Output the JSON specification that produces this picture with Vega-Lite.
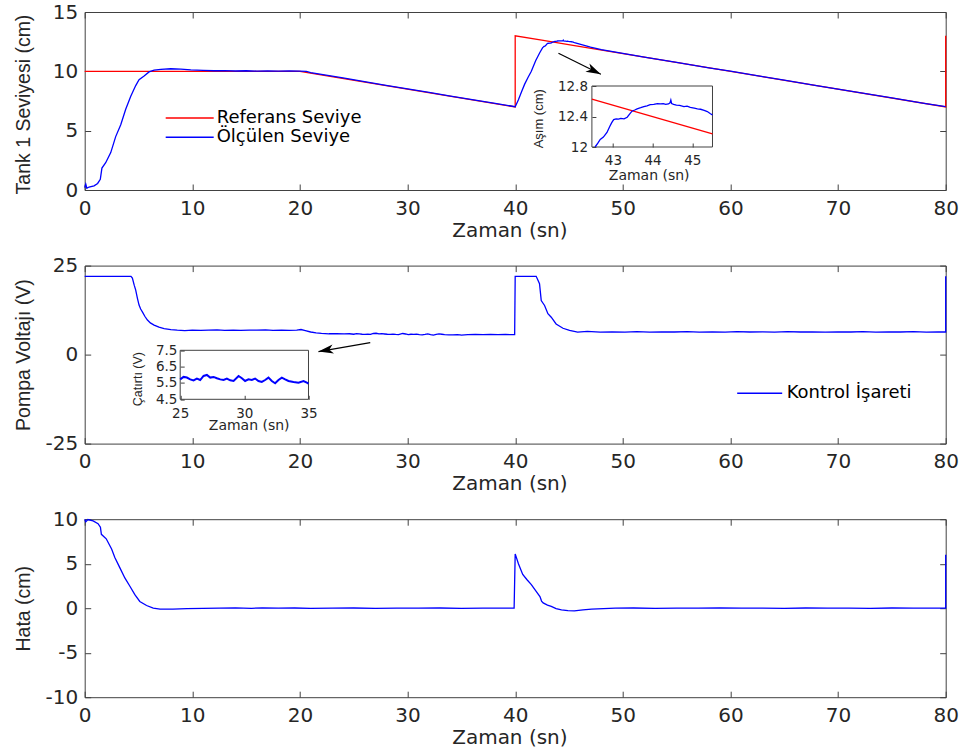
{
  "$schema": "https://vega.github.io/schema/vega-lite/v6.json",
  "background": "#ffffff",
  "padding": {"left": 12.7, "top": 2, "right": 5, "bottom": 5},
  "bounds": "flush",
  "spacing": 75.6,
  "datasets": {
    "lvl": [
      {"t": 0, "v": 10, "s": "Referans Seviye"},
      {"t": 20, "v": 10, "s": "Referans Seviye"},
      {"t": 40, "v": 7, "s": "Referans Seviye"},
      {"t": 40, "v": 13, "s": "Referans Seviye"},
      {"t": 42.47, "v": 12.6295, "s": "Referans Seviye"},
      {"t": 45.51, "v": 12.1735, "s": "Referans Seviye"},
      {"t": 80, "v": 7, "s": "Referans Seviye"},
      {"t": 80, "v": 13, "s": "Referans Seviye"},
      {"t": 0, "v": 0.2, "s": "Ölçülen Seviye"},
      {"t": 0.1, "v": 0.5, "s": "Ölçülen Seviye"},
      {"t": 0.2, "v": 0.15, "s": "Ölçülen Seviye"},
      {"t": 0.4, "v": 0.25, "s": "Ölçülen Seviye"},
      {"t": 0.87, "v": 0.35, "s": "Ölçülen Seviye"},
      {"t": 1.2, "v": 0.55, "s": "Ölçülen Seviye"},
      {"t": 1.45, "v": 0.9, "s": "Ölçülen Seviye"},
      {"t": 1.6, "v": 1.85, "s": "Ölçülen Seviye"},
      {"t": 1.95, "v": 2.3, "s": "Ölçülen Seviye"},
      {"t": 2.42, "v": 3.15, "s": "Ölçülen Seviye"},
      {"t": 2.88, "v": 4.5, "s": "Ölçülen Seviye"},
      {"t": 3.35, "v": 5.5, "s": "Ölçülen Seviye"},
      {"t": 3.81, "v": 6.8, "s": "Ölçülen Seviye"},
      {"t": 4.28, "v": 7.9, "s": "Ölçülen Seviye"},
      {"t": 4.74, "v": 8.8, "s": "Ölçülen Seviye"},
      {"t": 5.05, "v": 9.3, "s": "Ölçülen Seviye"},
      {"t": 5.52, "v": 9.6, "s": "Ölçülen Seviye"},
      {"t": 5.98, "v": 9.95, "s": "Ölçülen Seviye"},
      {"t": 6.45, "v": 10.1, "s": "Ölçülen Seviye"},
      {"t": 7.07, "v": 10.17, "s": "Ölçülen Seviye"},
      {"t": 8.0, "v": 10.22, "s": "Ölçülen Seviye"},
      {"t": 8.93, "v": 10.18, "s": "Ölçülen Seviye"},
      {"t": 9.86, "v": 10.12, "s": "Ölçülen Seviye"},
      {"t": 11, "v": 10.08, "s": "Ölçülen Seviye"},
      {"t": 12, "v": 10.05, "s": "Ölçülen Seviye"},
      {"t": 13, "v": 10.06, "s": "Ölçülen Seviye"},
      {"t": 14, "v": 10.03, "s": "Ölçülen Seviye"},
      {"t": 15, "v": 10.05, "s": "Ölçülen Seviye"},
      {"t": 16, "v": 10.02, "s": "Ölçülen Seviye"},
      {"t": 17, "v": 10.04, "s": "Ölçülen Seviye"},
      {"t": 18, "v": 10.02, "s": "Ölçülen Seviye"},
      {"t": 19, "v": 10.03, "s": "Ölçülen Seviye"},
      {"t": 20, "v": 10.02, "s": "Ölçülen Seviye"},
      {"t": 20.6, "v": 10.0, "s": "Ölçülen Seviye"},
      {"t": 21, "v": 9.9, "s": "Ölçülen Seviye"},
      {"t": 22, "v": 9.74, "s": "Ölçülen Seviye"},
      {"t": 24, "v": 9.44, "s": "Ölçülen Seviye"},
      {"t": 26, "v": 9.13, "s": "Ölçülen Seviye"},
      {"t": 28, "v": 8.82, "s": "Ölçülen Seviye"},
      {"t": 30, "v": 8.52, "s": "Ölçülen Seviye"},
      {"t": 32, "v": 8.22, "s": "Ölçülen Seviye"},
      {"t": 34, "v": 7.92, "s": "Ölçülen Seviye"},
      {"t": 36, "v": 7.62, "s": "Ölçülen Seviye"},
      {"t": 38, "v": 7.32, "s": "Ölçülen Seviye"},
      {"t": 40, "v": 7.02, "s": "Ölçülen Seviye"},
      {"t": 40.3, "v": 7.6, "s": "Ölçülen Seviye"},
      {"t": 40.6, "v": 8.3, "s": "Ölçülen Seviye"},
      {"t": 40.87, "v": 8.9, "s": "Ölçülen Seviye"},
      {"t": 41.2, "v": 9.5, "s": "Ölçülen Seviye"},
      {"t": 41.5, "v": 10.0, "s": "Ölçülen Seviye"},
      {"t": 41.9, "v": 10.9, "s": "Ölçülen Seviye"},
      {"t": 42.28, "v": 11.57, "s": "Ölçülen Seviye"},
      {"t": 42.55, "v": 12.0, "s": "Ölçülen Seviye"},
      {"t": 42.62, "v": 12.05, "s": "Ölçülen Seviye"},
      {"t": 42.68, "v": 12.1, "s": "Ölçülen Seviye"},
      {"t": 42.76, "v": 12.13, "s": "Ölçülen Seviye"},
      {"t": 42.85, "v": 12.19, "s": "Ölçülen Seviye"},
      {"t": 42.92, "v": 12.27, "s": "Ölçülen Seviye"},
      {"t": 42.97, "v": 12.32, "s": "Ölçülen Seviye"},
      {"t": 43.02, "v": 12.36, "s": "Ölçülen Seviye"},
      {"t": 43.08, "v": 12.37, "s": "Ölçülen Seviye"},
      {"t": 43.14, "v": 12.365, "s": "Ölçülen Seviye"},
      {"t": 43.2, "v": 12.375, "s": "Ölçülen Seviye"},
      {"t": 43.28, "v": 12.37, "s": "Ölçülen Seviye"},
      {"t": 43.36, "v": 12.39, "s": "Ölçülen Seviye"},
      {"t": 43.42, "v": 12.43, "s": "Ölçülen Seviye"},
      {"t": 43.48, "v": 12.47, "s": "Ölçülen Seviye"},
      {"t": 43.55, "v": 12.485, "s": "Ölçülen Seviye"},
      {"t": 43.61, "v": 12.5, "s": "Ölçülen Seviye"},
      {"t": 43.7, "v": 12.515, "s": "Ölçülen Seviye"},
      {"t": 43.78, "v": 12.53, "s": "Ölçülen Seviye"},
      {"t": 43.86, "v": 12.54, "s": "Ölçülen Seviye"},
      {"t": 43.94, "v": 12.555, "s": "Ölçülen Seviye"},
      {"t": 44.03, "v": 12.56, "s": "Ölçülen Seviye"},
      {"t": 44.12, "v": 12.57, "s": "Ölçülen Seviye"},
      {"t": 44.2, "v": 12.565, "s": "Ölçülen Seviye"},
      {"t": 44.27, "v": 12.57, "s": "Ölçülen Seviye"},
      {"t": 44.33, "v": 12.56, "s": "Ölçülen Seviye"},
      {"t": 44.4, "v": 12.565, "s": "Ölçülen Seviye"},
      {"t": 44.44, "v": 12.58, "s": "Ölçülen Seviye"},
      {"t": 44.46, "v": 12.615, "s": "Ölçülen Seviye"},
      {"t": 44.48, "v": 12.57, "s": "Ölçülen Seviye"},
      {"t": 44.53, "v": 12.56, "s": "Ölçülen Seviye"},
      {"t": 44.6, "v": 12.55, "s": "Ölçülen Seviye"},
      {"t": 44.68, "v": 12.545, "s": "Ölçülen Seviye"},
      {"t": 44.79, "v": 12.53, "s": "Ölçülen Seviye"},
      {"t": 44.87, "v": 12.535, "s": "Ölçülen Seviye"},
      {"t": 44.95, "v": 12.52, "s": "Ölçülen Seviye"},
      {"t": 45.05, "v": 12.51, "s": "Ölçülen Seviye"},
      {"t": 45.13, "v": 12.5, "s": "Ölçülen Seviye"},
      {"t": 45.21, "v": 12.495, "s": "Ölçülen Seviye"},
      {"t": 45.3, "v": 12.48, "s": "Ölçülen Seviye"},
      {"t": 45.38, "v": 12.465, "s": "Ölçülen Seviye"},
      {"t": 45.45, "v": 12.44, "s": "Ölçülen Seviye"},
      {"t": 45.51, "v": 12.42, "s": "Ölçülen Seviye"},
      {"t": 46, "v": 12.3, "s": "Ölçülen Seviye"},
      {"t": 47, "v": 12.05, "s": "Ölçülen Seviye"},
      {"t": 48, "v": 11.83, "s": "Ölçülen Seviye"},
      {"t": 50, "v": 11.51, "s": "Ölçülen Seviye"},
      {"t": 52, "v": 11.2, "s": "Ölçülen Seviye"},
      {"t": 55, "v": 10.76, "s": "Ölçülen Seviye"},
      {"t": 58, "v": 10.3, "s": "Ölçülen Seviye"},
      {"t": 60, "v": 10.01, "s": "Ölçülen Seviye"},
      {"t": 63, "v": 9.55, "s": "Ölçülen Seviye"},
      {"t": 65, "v": 9.26, "s": "Ölçülen Seviye"},
      {"t": 68, "v": 8.8, "s": "Ölçülen Seviye"},
      {"t": 70, "v": 8.51, "s": "Ölçülen Seviye"},
      {"t": 73, "v": 8.05, "s": "Ölçülen Seviye"},
      {"t": 75, "v": 7.76, "s": "Ölçülen Seviye"},
      {"t": 78, "v": 7.3, "s": "Ölçülen Seviye"},
      {"t": 80, "v": 7.02, "s": "Ölçülen Seviye"}
    ],
    "pv": [
      {"t": 0, "v": 22}, {"t": 4.3, "v": 22}, {"t": 4.43, "v": 21.5}, {"t": 4.6, "v": 19.5},
      {"t": 4.74, "v": 18.1}, {"t": 4.9, "v": 15.8}, {"t": 5.05, "v": 13.9}, {"t": 5.2, "v": 12.8},
      {"t": 5.36, "v": 12.0}, {"t": 5.6, "v": 10.7}, {"t": 5.83, "v": 9.7}, {"t": 6.1, "v": 8.9},
      {"t": 6.45, "v": 8.3}, {"t": 6.9, "v": 7.7}, {"t": 7.38, "v": 7.3}, {"t": 8.0, "v": 7.0},
      {"t": 8.6, "v": 6.85}, {"t": 9.3, "v": 6.75}, {"t": 10, "v": 6.9}, {"t": 10.8, "v": 6.8},
      {"t": 11.5, "v": 6.85}, {"t": 12.3, "v": 6.95}, {"t": 13, "v": 6.8}, {"t": 13.8, "v": 6.9},
      {"t": 14.5, "v": 6.8}, {"t": 15.3, "v": 6.9}, {"t": 16, "v": 6.85}, {"t": 16.8, "v": 6.95},
      {"t": 17.5, "v": 6.8}, {"t": 18.3, "v": 6.9}, {"t": 19, "v": 6.8}, {"t": 19.7, "v": 6.9},
      {"t": 20.1, "v": 7.05}, {"t": 20.5, "v": 6.75}, {"t": 21, "v": 6.35}, {"t": 21.5, "v": 6.1},
      {"t": 22, "v": 5.95}, {"t": 22.7, "v": 5.85}, {"t": 23.4, "v": 5.9}, {"t": 24.1, "v": 5.8},
      {"t": 24.6, "v": 5.85},
      {"t": 25.0, "v": 5.72}, {"t": 25.26, "v": 5.87}, {"t": 25.52, "v": 5.83}, {"t": 25.78, "v": 5.72},
      {"t": 26.04, "v": 5.66}, {"t": 26.3, "v": 5.77}, {"t": 26.56, "v": 5.68}, {"t": 26.82, "v": 5.93},
      {"t": 27.08, "v": 5.99}, {"t": 27.34, "v": 5.83}, {"t": 27.6, "v": 5.87}, {"t": 27.86, "v": 5.79},
      {"t": 28.12, "v": 5.72}, {"t": 28.38, "v": 5.68}, {"t": 28.64, "v": 5.77}, {"t": 28.9, "v": 5.66},
      {"t": 29.16, "v": 5.62}, {"t": 29.55, "v": 5.93}, {"t": 29.81, "v": 5.79}, {"t": 30.06, "v": 5.62},
      {"t": 30.32, "v": 5.72}, {"t": 30.58, "v": 5.68}, {"t": 30.84, "v": 5.77}, {"t": 31.1, "v": 5.62},
      {"t": 31.36, "v": 5.56}, {"t": 31.62, "v": 5.68}, {"t": 31.88, "v": 5.83}, {"t": 32.14, "v": 5.62},
      {"t": 32.4, "v": 5.48}, {"t": 32.66, "v": 5.68}, {"t": 32.92, "v": 5.83}, {"t": 33.18, "v": 5.72},
      {"t": 33.44, "v": 5.62}, {"t": 33.83, "v": 5.56}, {"t": 34.22, "v": 5.52}, {"t": 34.61, "v": 5.62},
      {"t": 34.87, "v": 5.52}, {"t": 35.0, "v": 5.46},
      {"t": 35.6, "v": 5.6}, {"t": 36.3, "v": 5.7}, {"t": 37, "v": 5.6}, {"t": 37.7, "v": 5.7},
      {"t": 38.4, "v": 5.6}, {"t": 39.1, "v": 5.65}, {"t": 39.95, "v": 5.6},
      {"t": 40, "v": 22}, {"t": 41.95, "v": 22}, {"t": 42.26, "v": 19.9}, {"t": 42.42, "v": 15.2},
      {"t": 42.73, "v": 13.8}, {"t": 43.04, "v": 11.5}, {"t": 43.35, "v": 10.5}, {"t": 43.8, "v": 8.6},
      {"t": 44.44, "v": 7.4}, {"t": 45.05, "v": 6.8}, {"t": 45.8, "v": 6.3}, {"t": 46.7, "v": 6.5},
      {"t": 47.9, "v": 6.3}, {"t": 49, "v": 6.4}, {"t": 50.2, "v": 6.3}, {"t": 51.3, "v": 6.45},
      {"t": 52.5, "v": 6.3}, {"t": 53.6, "v": 6.4}, {"t": 54.8, "v": 6.35}, {"t": 56, "v": 6.45},
      {"t": 57.1, "v": 6.3}, {"t": 58.3, "v": 6.4}, {"t": 59.5, "v": 6.3}, {"t": 60.6, "v": 6.45},
      {"t": 61.8, "v": 6.35}, {"t": 63, "v": 6.4}, {"t": 64.1, "v": 6.3}, {"t": 65.3, "v": 6.45},
      {"t": 66.5, "v": 6.35}, {"t": 67.6, "v": 6.4}, {"t": 68.8, "v": 6.3}, {"t": 70, "v": 6.4},
      {"t": 71.2, "v": 6.35}, {"t": 72.3, "v": 6.45}, {"t": 73.5, "v": 6.3}, {"t": 74.7, "v": 6.4},
      {"t": 75.8, "v": 6.35}, {"t": 77, "v": 6.45}, {"t": 78.2, "v": 6.3}, {"t": 79.3, "v": 6.4},
      {"t": 80, "v": 6.35}, {"t": 80, "v": 22}
    ],
    "err": [
      {"t": 0, "v": 10.0}, {"t": 0.1, "v": 9.7}, {"t": 0.3, "v": 9.96}, {"t": 0.78, "v": 9.8},
      {"t": 1.24, "v": 9.5}, {"t": 1.46, "v": 9.1}, {"t": 1.55, "v": 8.3}, {"t": 2.0, "v": 7.8},
      {"t": 2.5, "v": 6.65}, {"t": 2.8, "v": 5.7}, {"t": 3.26, "v": 4.56}, {"t": 3.73, "v": 3.4},
      {"t": 4.2, "v": 2.47}, {"t": 4.66, "v": 1.52}, {"t": 5.12, "v": 0.76}, {"t": 5.75, "v": 0.3},
      {"t": 6.37, "v": 0.0}, {"t": 7.0, "v": -0.11}, {"t": 8.2, "v": -0.11}, {"t": 9.5, "v": -0.04},
      {"t": 11, "v": -0.02}, {"t": 12.5, "v": 0.0}, {"t": 14, "v": 0.03}, {"t": 15.5, "v": -0.01},
      {"t": 16.5, "v": 0.03}, {"t": 18, "v": 0.0}, {"t": 19.5, "v": 0.02}, {"t": 21, "v": -0.02},
      {"t": 23, "v": 0.0}, {"t": 25, "v": 0.02}, {"t": 27, "v": -0.01}, {"t": 29, "v": 0.01},
      {"t": 31, "v": 0.0}, {"t": 33, "v": 0.02}, {"t": 35, "v": -0.01}, {"t": 37, "v": 0.01},
      {"t": 39.9, "v": 0.0}, {"t": 40, "v": 6.1}, {"t": 40.3, "v": 5.0}, {"t": 40.7, "v": 3.8},
      {"t": 41.1, "v": 3.2}, {"t": 41.5, "v": 2.65}, {"t": 42.0, "v": 1.8}, {"t": 42.3, "v": 1.3},
      {"t": 42.45, "v": 0.8}, {"t": 42.6, "v": 0.6}, {"t": 43.0, "v": 0.35}, {"t": 43.35, "v": 0.2},
      {"t": 43.8, "v": -0.05}, {"t": 44.3, "v": -0.2}, {"t": 44.9, "v": -0.28}, {"t": 45.5, "v": -0.3},
      {"t": 46.3, "v": -0.2}, {"t": 47.1, "v": -0.1}, {"t": 48.2, "v": -0.05}, {"t": 49.3, "v": 0.0},
      {"t": 51, "v": 0.02}, {"t": 53, "v": -0.01}, {"t": 55, "v": 0.01}, {"t": 57, "v": 0.0},
      {"t": 59, "v": 0.02}, {"t": 61, "v": 0.0}, {"t": 63, "v": 0.01}, {"t": 65, "v": -0.01},
      {"t": 67, "v": 0.02}, {"t": 69, "v": 0.0}, {"t": 71, "v": 0.01}, {"t": 73, "v": -0.01},
      {"t": 75, "v": 0.02}, {"t": 77, "v": 0.0}, {"t": 79, "v": 0.01}, {"t": 80, "v": 0.0},
      {"t": 80, "v": 6.0}
    ]
  },
  "vconcat": [
    {
      "width": 861,
      "height": 178,
      "resolve": {"scale": {"x": "independent", "y": "independent"}, "axis": {"x": "independent", "y": "independent"}},
      "layer": [
        {
          "data": {"values": [{}]},
          "mark": {"type": "point", "opacity": 0},
          "encoding": {
            "x": {"datum": 0, "type": "quantitative", "scale": {"domain": [0, 80], "nice": false, "zero": false},
                  "axis": {"orient": "top", "values": [0, 10, 20, 30, 40, 50, 60, 70, 80], "labels": false, "title": null}},
            "y": {"datum": 0, "type": "quantitative", "scale": {"domain": [0, 15], "nice": false, "zero": false},
                  "axis": {"orient": "right", "values": [0, 5, 10, 15], "labels": false, "title": null}}
          }
        },
        {
          "data": {"name": "lvl"},
          "mark": {"type": "line", "strokeWidth": 1.3},
          "encoding": {
            "x": {"field": "t", "type": "quantitative", "scale": {"domain": [0, 80], "nice": false, "zero": false},
                  "axis": {"orient": "bottom", "values": [0, 10, 20, 30, 40, 50, 60, 70, 80], "title": "Zaman (sn)", "labelPadding": 14,
                           "titleFont": "DejaVu Sans", "titleFontSize": 20, "titleX": 424.7, "titleY": 46, "titleBaseline": "alphabetic"}},
            "y": {"field": "v", "type": "quantitative", "scale": {"domain": [0, 15], "nice": false, "zero": false},
                  "axis": {"orient": "left", "values": [0, 5, 10, 15], "title": "Tank 1 Seviyesi (cm)", "labelPadding": 13,
                           "titleX": -55.5, "titleY": 92, "titleBaseline": "alphabetic"}},
            "color": {"field": "s", "type": "nominal",
                      "scale": {"domain": ["Referans Seviye", "Ölçülen Seviye"], "range": ["#ff0000", "#0000ff"]},
                      "legend": {"orient": "none", "legendX": 96, "legendY": 97, "title": null, "padding": 0,
                                 "symbolType": "M-4.8,0L4.8,0", "symbolSize": 100, "symbolStrokeWidth": 1.5,
                                 "labelOffset": 18, "labelFont": "DejaVu Sans", "labelFontSize": 18, "labelColor": "#000000", "rowPadding": 1.3}}
          }
        },
        {
          "data": {"values": [{"t1": 44.02, "v1": 11.52, "t2": 47.96, "v2": 9.75}]},
          "mark": {"type": "rule", "color": "#000000", "strokeWidth": 1.2},
          "encoding": {
            "x": {"field": "t1", "type": "quantitative", "scale": {"domain": [0, 80], "nice": false, "zero": false}, "axis": null},
            "y": {"field": "v1", "type": "quantitative", "scale": {"domain": [0, 15], "nice": false, "zero": false}, "axis": null},
            "x2": {"field": "t2"},
            "y2": {"field": "v2"}
          }
        },
        {
          "data": {"values": [{"t1": 44.02, "v1": 11.52, "t2": 47.96, "v2": 9.75}]},
          "mark": {"type": "point", "shape": "M0,0L-3,-0.9L-2.2,0L-3,0.9Z", "size": 100, "filled": true, "color": "#000000", "opacity": 1, "angle": 26.3, "strokeWidth": 0},
          "encoding": {
            "x": {"field": "t2", "type": "quantitative", "scale": {"domain": [0, 80], "nice": false, "zero": false}, "axis": null},
            "y": {"field": "v2", "type": "quantitative", "scale": {"domain": [0, 15], "nice": false, "zero": false}, "axis": null}
          }
        },
        {
          "data": {"values": [{"t1": 42.47, "t2": 45.51, "v1": 12, "v2": 12.8}]},
          "mark": {"type": "rect", "filled": false, "color": "#404040", "strokeWidth": 1},
          "encoding": {
            "x": {"field": "t1", "type": "quantitative", "scale": {"domain": [42.47, 45.51], "range": [507.2, 627.8], "nice": false, "zero": false},
                  "axis": {"orient": "bottom", "offset": -43, "zindex": 1, "domain": false, "values": [43, 44, 45], "tickSize": -4, "labelPadding": 10.5,
                           "labelFontSize": 13.5, "title": "Zaman (sn)", "titleFont": "DejaVu Sans", "titleFontSize": 14,
                           "titleX": 564, "titleY": 32, "titleBaseline": "alphabetic"}},
            "x2": {"field": "t2"},
            "y": {"field": "v1", "type": "quantitative", "scale": {"domain": [12, 12.8], "range": [135, 74], "nice": false, "zero": false},
                  "axis": {"orient": "left", "offset": -507.2, "zindex": 1, "domain": false, "values": [12, 12.4, 12.8], "format": "~g", "tickSize": -4, "labelPadding": 8.4,
                           "labelFontSize": 13.5, "title": "Aşım (cm)", "titleFontSize": 13,
                           "titleX": -49.4, "titleY": 106.3, "titleBaseline": "alphabetic"}},
            "y2": {"field": "v2"}
          }
        },
        {
          "data": {"name": "lvl"},
          "transform": [{"filter": "datum.t >= 42.47 && datum.t <= 45.51"}],
          "mark": {"type": "line", "strokeWidth": 1.3},
          "encoding": {
            "x": {"field": "t", "type": "quantitative", "scale": {"domain": [42.47, 45.51], "range": [507.2, 627.8], "nice": false, "zero": false}, "axis": null},
            "y": {"field": "v", "type": "quantitative", "scale": {"domain": [12, 12.8], "range": [135, 74], "nice": false, "zero": false}, "axis": null},
            "color": {"field": "s", "type": "nominal",
                      "scale": {"domain": ["Referans Seviye", "Ölçülen Seviye"], "range": ["#ff0000", "#0000ff"]}, "legend": null}
          }
        }
      ]
    },
    {
      "width": 861,
      "height": 178,
      "resolve": {"scale": {"x": "independent", "y": "independent"}, "axis": {"x": "independent", "y": "independent"}},
      "layer": [
        {
          "data": {"values": [{}]},
          "mark": {"type": "point", "opacity": 0},
          "encoding": {
            "x": {"datum": 0, "type": "quantitative", "scale": {"domain": [0, 80], "nice": false, "zero": false},
                  "axis": {"orient": "top", "values": [0, 10, 20, 30, 40, 50, 60, 70, 80], "labels": false, "title": null}},
            "y": {"datum": 0, "type": "quantitative", "scale": {"domain": [-25, 25], "nice": false, "zero": false},
                  "axis": {"orient": "right", "values": [-25, 0, 25], "labels": false, "title": null}}
          }
        },
        {
          "data": {"name": "pv"},
          "mark": {"type": "line", "strokeWidth": 1.3},
          "encoding": {
            "x": {"field": "t", "type": "quantitative", "scale": {"domain": [0, 80], "nice": false, "zero": false},
                  "axis": {"orient": "bottom", "values": [0, 10, 20, 30, 40, 50, 60, 70, 80], "title": "Zaman (sn)", "labelPadding": 14,
                           "titleFont": "DejaVu Sans", "titleFontSize": 20, "titleX": 424.7, "titleY": 46, "titleBaseline": "alphabetic"}},
            "y": {"field": "v", "type": "quantitative", "scale": {"domain": [-25, 25], "nice": false, "zero": false},
                  "axis": {"orient": "left", "values": [-25, 0, 25], "labelExpr": "replace(datum.label, '−', '-')", "title": "Pompa Voltajı (V)", "labelPadding": 13,
                           "titleX": -55.5, "titleY": 89, "titleBaseline": "alphabetic"}},
            "color": {"datum": "Kontrol İşareti", "type": "nominal",
                      "scale": {"range": ["#0000ff"]},
                      "legend": {"orient": "none", "legendX": 666, "legendY": 118.7, "title": null, "padding": 0,
                                 "symbolType": "M-4.5,0L4.5,0", "symbolSize": 100, "symbolStrokeWidth": 1.5,
                                 "labelOffset": 18, "labelFont": "DejaVu Sans", "labelFontSize": 18, "labelColor": "#000000"}}
          }
        },
        {
          "data": {"values": [{"t1": 26.53, "v1": 3.37, "t2": 21.72, "v2": 0.84}]},
          "mark": {"type": "rule", "color": "#000000", "strokeWidth": 1.2},
          "encoding": {
            "x": {"field": "t1", "type": "quantitative", "scale": {"domain": [0, 80], "nice": false, "zero": false}, "axis": null},
            "y": {"field": "v1", "type": "quantitative", "scale": {"domain": [-25, 25], "nice": false, "zero": false}, "axis": null},
            "x2": {"field": "t2"},
            "y2": {"field": "v2"}
          }
        },
        {
          "data": {"values": [{"t1": 26.53, "v1": 3.37, "t2": 21.72, "v2": 0.84}]},
          "mark": {"type": "point", "shape": "M0,0L-3,-0.9L-2.2,0L-3,0.9Z", "size": 100, "filled": true, "color": "#000000", "opacity": 1, "angle": 170.1, "strokeWidth": 0},
          "encoding": {
            "x": {"field": "t2", "type": "quantitative", "scale": {"domain": [0, 80], "nice": false, "zero": false}, "axis": null},
            "y": {"field": "v2", "type": "quantitative", "scale": {"domain": [-25, 25], "nice": false, "zero": false}, "axis": null}
          }
        },
        {
          "data": {"values": [{"t1": 25, "t2": 35, "v1": 4.5, "v2": 7.5}]},
          "mark": {"type": "rect", "filled": false, "color": "#404040", "strokeWidth": 1},
          "encoding": {
            "x": {"field": "t1", "type": "quantitative", "scale": {"domain": [25, 35], "range": [95.5, 223.8], "nice": false, "zero": false},
                  "axis": {"orient": "bottom", "offset": -44.3, "zindex": 1, "domain": false, "values": [25, 30, 35], "tickSize": -4, "labelPadding": 11.5,
                           "labelFontSize": 13.5, "title": "Zaman (sn)", "titleFont": "DejaVu Sans", "titleFontSize": 14,
                           "titleX": 164, "titleY": 30.5, "titleBaseline": "alphabetic"}},
            "x2": {"field": "t2"},
            "y": {"field": "v1", "type": "quantitative", "scale": {"domain": [4.5, 7.5], "range": [133.7, 84.7], "nice": false, "zero": false},
                  "axis": {"orient": "left", "offset": -95.5, "zindex": 1, "domain": false, "values": [4.5, 5.5, 6.5, 7.5], "format": ".1f", "tickSize": -4, "labelPadding": 7.3,
                           "labelFontSize": 13.5, "title": "Çatırtı (V)", "titleFontSize": 12.5,
                           "titleX": -39, "titleY": 113, "titleBaseline": "alphabetic"}},
            "y2": {"field": "v2"}
          }
        },
        {
          "data": {"name": "pv"},
          "transform": [{"filter": "datum.t >= 25 && datum.t <= 35"}],
          "mark": {"type": "line", "strokeWidth": 2, "color": "#0000ff"},
          "encoding": {
            "x": {"field": "t", "type": "quantitative", "scale": {"domain": [25, 35], "range": [95.5, 223.8], "nice": false, "zero": false}, "axis": null},
            "y": {"field": "v", "type": "quantitative", "scale": {"domain": [4.5, 7.5], "range": [133.7, 84.7], "nice": false, "zero": false}, "axis": null}
          }
        }
      ]
    },
    {
      "width": 861,
      "height": 178,
      "resolve": {"scale": {"x": "independent", "y": "independent"}, "axis": {"x": "independent", "y": "independent"}},
      "layer": [
        {
          "data": {"values": [{}]},
          "mark": {"type": "point", "opacity": 0},
          "encoding": {
            "x": {"datum": 0, "type": "quantitative", "scale": {"domain": [0, 80], "nice": false, "zero": false},
                  "axis": {"orient": "top", "values": [0, 10, 20, 30, 40, 50, 60, 70, 80], "labels": false, "title": null}},
            "y": {"datum": 0, "type": "quantitative", "scale": {"domain": [-10, 10], "nice": false, "zero": false},
                  "axis": {"orient": "right", "values": [-10, -5, 0, 5, 10], "labels": false, "title": null}}
          }
        },
        {
          "data": {"name": "err"},
          "mark": {"type": "line", "strokeWidth": 1.3, "color": "#0000ff"},
          "encoding": {
            "x": {"field": "t", "type": "quantitative", "scale": {"domain": [0, 80], "nice": false, "zero": false},
                  "axis": {"orient": "bottom", "values": [0, 10, 20, 30, 40, 50, 60, 70, 80], "title": "Zaman (sn)", "labelPadding": 14,
                           "titleFont": "DejaVu Sans", "titleFontSize": 20, "titleX": 424.7, "titleY": 46, "titleBaseline": "alphabetic"}},
            "y": {"field": "v", "type": "quantitative", "scale": {"domain": [-10, 10], "nice": false, "zero": false},
                  "axis": {"orient": "left", "values": [-10, -5, 0, 5, 10], "labelExpr": "replace(datum.label, '−', '-')", "title": "Hata (cm)", "labelPadding": 13,
                           "titleX": -55.5, "titleY": 89, "titleBaseline": "alphabetic"}}
          }
        }
      ]
    }
  ],
  "resolve": {"scale": {"color": "independent"}, "legend": {"color": "independent"}},
  "config": {
    "view": {"stroke": null},
    "axis": {
      "grid": false,
      "domainColor": "#404040",
      "tickColor": "#404040",
      "domainWidth": 1,
      "tickWidth": 1,
      "tickSize": -6,
      "labelFont": "DejaVu Sans",
      "labelFontSize": 20,
      "labelColor": "#262626",
      "titleFont": "Liberation Sans",
      "titleFontWeight": "normal",
      "titleColor": "#262626",
      "titleFontSize": 19.5,
      "labelFlush": false,
      "labelOverlap": false
    }
  }
}
